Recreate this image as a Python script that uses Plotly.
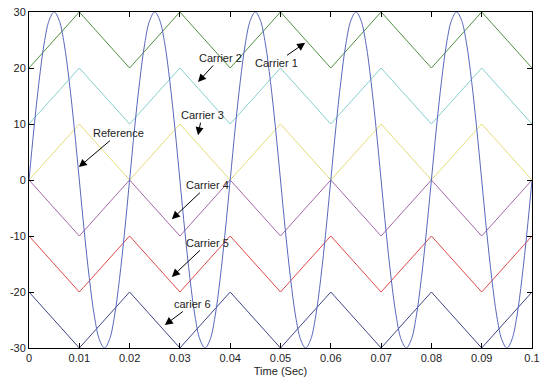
import plotly.graph_objects as go
import numpy as np

t_ref = np.round(np.arange(0, 0.1001, 0.001), 3)
ref_vals = [0, 9.3, 17.6, 24.3, 28.5, 30, 28.5, 24.3, 17.6, 9.3,
            0, -9.3, -17.6, -24.3, -28.5, -30, -28.5, -24.3, -17.6, -9.3,
            0, 9.3, 17.6, 24.3, 28.5, 30, 28.5, 24.3, 17.6, 9.3,
            0, -9.3, -17.6, -24.3, -28.5, -30, -28.5, -24.3, -17.6, -9.3,
            0, 9.3, 17.6, 24.3, 28.5, 30, 28.5, 24.3, 17.6, 9.3,
            0, -9.3, -17.6, -24.3, -28.5, -30, -28.5, -24.3, -17.6, -9.3,
            0, 9.3, 17.6, 24.3, 28.5, 30, 28.5, 24.3, 17.6, 9.3,
            0, -9.3, -17.6, -24.3, -28.5, -30, -28.5, -24.3, -17.6, -9.3,
            0, 9.3, 17.6, 24.3, 28.5, 30, 28.5, 24.3, 17.6, 9.3,
            0, -9.3, -17.6, -24.3, -28.5, -30, -28.5, -24.3, -17.6, -9.3,
            0]

# Carriers (vertices every 0.01 s)
t_car = [0, 0.01, 0.02, 0.03, 0.04, 0.05, 0.06, 0.07, 0.08, 0.09, 0.1]
carrier1 = [20, 30, 20, 30, 20, 30, 20, 30, 20, 30, 20]
carrier2 = [10, 20, 10, 20, 10, 20, 10, 20, 10, 20, 10]
carrier3 = [0, 10, 0, 10, 0, 10, 0, 10, 0, 10, 0]
carrier4 = [0, -10, 0, -10, 0, -10, 0, -10, 0, -10, 0]
carrier5 = [-10, -20, -10, -20, -10, -20, -10, -20, -10, -20, -10]
carrier6 = [-20, -30, -20, -30, -20, -30, -20, -30, -20, -30, -20]

x_ticks = [0, 0.01, 0.02, 0.03, 0.04, 0.05, 0.06, 0.07, 0.08, 0.09, 0.1]
x_labels = ["0", "0.01", "0.02", "0.03", "0.04", "0.05", "0.06", "0.07", "0.08", "0.09", "0.1"]
y_ticks = [-30, -20, -10, 0, 10, 20, 30]
y_labels = ["-30", "-20", "-10", "0", "10", "20", "30"]

# Annotation labels: text, arrow head (data), text offset (px)
ann_text = ["Carrier 2", "Carrier 1", "Carrier 3", "Reference", "Carrier 4", "Carrier 5", "carier 6"]
ann_x = [0.0336, 0.0549, 0.0336, 0.0099, 0.0284, 0.0284, 0.0270]
ann_y = [17.5, 24.5, 8.0, 2.3, -7.0, -17.3, -25.9]
ann_ax = [22, -29, 4, 40, 36, 36, 28]
ann_ay = [-24, 20, -20, -34, -34, -34, -21]

fig = go.Figure()
car_colors = ["#4f8f3f", "#86cfcf", "#e6dc78", "#a466a8", "#e04848", "#3c4688"]
for vals, col in zip([carrier1, carrier2, carrier3, carrier4, carrier5, carrier6], car_colors):
    fig.add_trace(go.Scatter(x=t_car, y=vals, mode="lines",
                             line=dict(color=col, width=1), showlegend=False, hoverinfo="skip"))
fig.add_trace(go.Scatter(x=t_ref, y=ref_vals, mode="lines",
                         line=dict(color="#5868bc", width=1, shape="spline"),
                         showlegend=False, hoverinfo="skip"))

font = dict(family="Liberation Sans Narrow, Liberation Sans, Arial", size=11, color="#222")
for txt, x, y, ax, ay in zip(ann_text, ann_x, ann_y, ann_ax, ann_ay):
    fig.add_annotation(x=x, y=y, text=txt, showarrow=True, ax=ax, ay=ay,
                       arrowhead=2, arrowsize=1.6, arrowwidth=1, arrowcolor="black",
                       font=font, standoff=0)

fig.update_layout(
    width=548, height=383,
    margin=dict(l=29, r=16, t=12, b=35),
    paper_bgcolor="white", plot_bgcolor="white",
    font=font,
    xaxis=dict(range=[0, 0.1], tickvals=x_ticks, ticktext=x_labels, automargin=False,
               showline=True, linecolor="black", linewidth=1, mirror="ticks",
               ticks="inside", ticklen=5, tickcolor="black", showgrid=False, zeroline=False,
               title=dict(text="Time (Sec)", standoff=4, font=font)),
    yaxis=dict(range=[-30, 30], tickvals=y_ticks, ticktext=y_labels, automargin=False,
               showline=True, linecolor="black", linewidth=1, mirror="ticks",
               ticks="inside", ticklen=5, tickcolor="black", showgrid=False, zeroline=False),
)
fig.write_html("out.html", config={"displayModeBar": False},
               post_script="document.body.style.margin='0';document.body.style.overflow='hidden';")
